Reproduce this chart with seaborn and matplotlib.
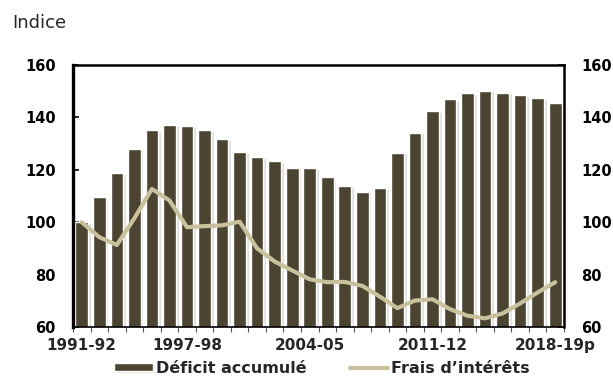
import numpy as np
import pandas as pd
import matplotlib
matplotlib.use("Agg")
import matplotlib.pyplot as plt
import matplotlib.patheffects as pe
from matplotlib.ticker import FixedLocator, NullFormatter
import seaborn as sns

# Fiscal years 1991-92 .. 2018-19 (last year is a projection)
years = [f"{y}-{str(y + 1)[-2:]}" for y in range(1991, 2019)]
tick_years = ["1991-92", "1997-98", "2004-05", "2011-12", "2018-19"]
tick_text = ["1991-92", "1997-98", "2004-05", "2011-12", "2018-19p"]

# Index values (1991-92 = 100)
deficit = [100.0, 109.5, 118.8, 127.8, 135.1, 137.2, 136.6, 135.1, 131.6, 126.8,
           124.8, 123.2, 120.8, 120.6, 117.3, 113.8, 111.5, 113.0, 126.5, 134.2,
           142.3, 146.9, 149.2, 150.2, 149.5, 148.5, 147.4, 145.6]
interest = [100.0, 94.3, 91.3, 101.5, 112.7, 108.3, 98.1, 98.5, 98.8, 100.2,
            90.0, 85.0, 81.6, 78.2, 77.1, 77.2, 75.7, 71.6, 67.2, 70.1,
            70.6, 66.8, 64.3, 63.3, 65.2, 69.0, 73.2, 77.1]

y_ticks = [60, 80, 100, 120, 140, 160]

bar_color = "#4a4430"
line_color = "#c9c19c"
lab_deficit = "Déficit accumulé"
lab_interest = "Frais d\u2019intérêts"

sns.set_style("white")
plt.rcParams["font.family"] = ["DejaVu Sans"]

df = pd.DataFrame({"annee": years, "deficit": deficit, "interets": interest})
df["pos"] = np.arange(len(df))

fig = plt.figure(figsize=(6.13, 3.77), dpi=100)
ax = fig.add_axes([73 / 613, 1 - 327 / 377, (564 - 73) / 613, (327 - 65) / 377])

sns.barplot(data=df, x="annee", y="deficit", color=bar_color, saturation=1,
            width=0.72, ax=ax, label=lab_deficit)
for bar in ax.patches:
    bar.set_path_effects([pe.withSimplePatchShadow(offset=(2.0, -1.2),
                                                   shadow_rgbFace="#c4c4c4",
                                                   alpha=0.55),
                          pe.Normal()])

sns.lineplot(data=df, x="pos", y="interets", color=line_color, linewidth=3.0,
             ax=ax, label=lab_interest, solid_capstyle="round",
             solid_joinstyle="round")

ax.set_xlim(-0.5, len(years) - 0.5)
ax.set_ylim(60, 160)
ax.set_xlabel("")
ax.set_ylabel("")

# y axis: labels on both sides, inward ticks
ax.set_yticks(y_ticks)
ax.tick_params(axis="y", which="major", direction="in", length=4, width=1.2,
               left=True, right=True, labelleft=True, labelright=True,
               labelsize=10.5, pad=12.5, colors="black")
for lab in ax.get_yticklabels():
    lab.set_fontweight("bold")

# x axis: labelled years, small ticks between categories
ax.set_xticks([years.index(y) for y in tick_years])
ax.set_xticklabels(tick_text, fontweight="bold", fontsize=11)
ax.xaxis.set_minor_locator(FixedLocator(np.arange(-0.5, len(years), 1.0)))
ax.xaxis.set_minor_formatter(NullFormatter())
ax.tick_params(axis="x", which="major", length=0, pad=8)
ax.tick_params(axis="x", which="minor", direction="out", length=3.5, width=0.8,
               bottom=True, color="#555555")

for side, w in {"left": 2.4, "right": 1.8, "top": 1.8, "bottom": 1.2}.items():
    ax.spines[side].set_visible(True)
    ax.spines[side].set_color("black")
    ax.spines[side].set_linewidth(w)

handles, labels = ax.get_legend_handles_labels()
ax.get_legend().remove()
order = [labels.index(lab_deficit), labels.index(lab_interest)]
fig.legend([handles[i] for i in order], [labels[i] for i in order],
           loc="center", bbox_to_anchor=(322 / 613, 1 - 368.5 / 377),
           ncol=2, frameon=False, prop={"weight": "bold", "size": 11.5},
           handlelength=2.4, handleheight=0.4, handletextpad=0.2,
           columnspacing=2.7, borderaxespad=0, borderpad=0)

fig.text(12 / 613, 1 - 22.5 / 377, "Indice", fontsize=13, va="center", ha="left")

fig.savefig("out.png", dpi=100)
